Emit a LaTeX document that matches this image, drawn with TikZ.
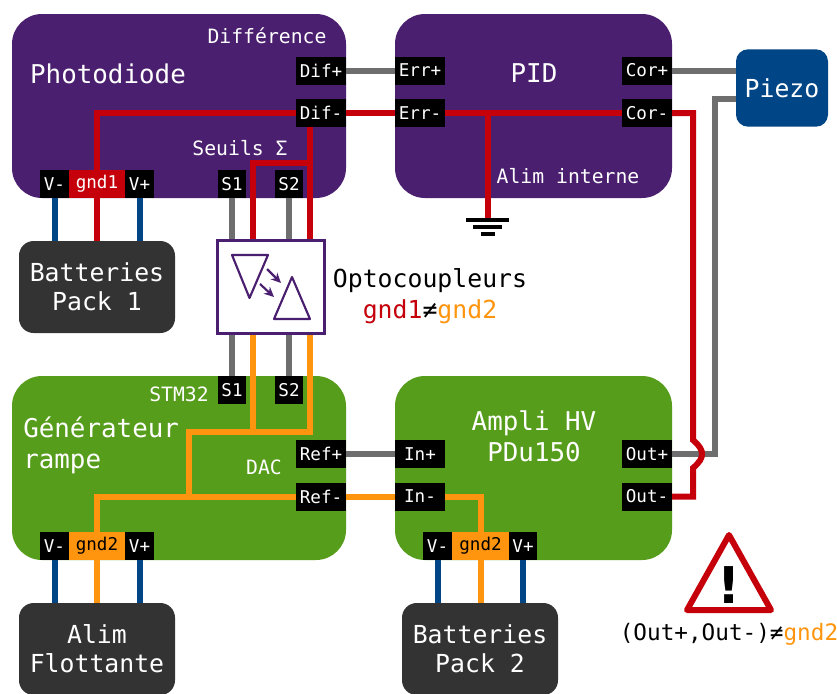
\documentclass[tikz,border=0pt]{standalone}
\usepackage{fontspec}
\setmainfont{DejaVu Sans Mono}
\newfontfamily\bangfont{DejaVu Sans}[BoldFont={DejaVu Sans Bold}]
\usetikzlibrary{arrows.meta}
\definecolor{cpurple}{HTML}{4B1F6F}
\definecolor{cgreen}{HTML}{579D1C}
\definecolor{cblue}{HTML}{004586}
\definecolor{cdark}{HTML}{333333}
\definecolor{cred}{HTML}{C5000B}
\definecolor{corange}{HTML}{FF950E}
\definecolor{cgray}{HTML}{6E6E6E}
\newcommand{\fnt}[2]{\fontsize{#1pt}{#2pt}\selectfont}
\pgfdeclarelayer{boxes}
\pgfdeclarelayer{wires}
\pgfsetlayers{boxes,wires,main}
\tikzset{
  bigbox/.style={rectangle,rounded corners=22.5pt,inner sep=0,outer sep=0,minimum width=250.5pt,minimum height=138pt},
  pidbox/.style={bigbox,minimum width=207.75pt},
  darkbox/.style={rectangle,rounded corners=11pt,inner sep=0,outer sep=0,fill=cdark,text=white,minimum width=117pt,minimum height=69pt,align=center,font=\fnt{18.6}{21.8}},
  port/.style={rectangle,inner sep=0,outer sep=0,fill=black,text=white,minimum height=21pt,font=\fnt{13.2}{16}},
  wideport/.style={port,minimum width=37.5pt},
  narrowport/.style={port,minimum width=21.5pt},
  gndport/.style={port,minimum width=42.5pt},
  wirebase/.style={line width=4.5pt},
  graywire/.style={wirebase,draw=cgray},
  redwire/.style={wirebase,draw=cred},
  orangewire/.style={wirebase,draw=corange},
  bluewire/.style={wirebase,draw=cblue},
  big/.style={text=white,font=\fnt{19.4}{23.2},align=center,inner sep=0},
  mid/.style={text=white,font=\fnt{14.8}{18},inner sep=0},
  optosym/.style={draw=cpurple,line width=1.6pt,line join=round},
  optoarrow/.style={draw=cpurple,line width=1.6pt,-{Stealth[length=7.5pt,width=7pt]}},
  gndbar/.style={draw=black,line width=3pt}
}
\begin{document}
\begin{tikzpicture}[x=0.75pt,y=-0.75pt]
\useasboundingbox (0,0) rectangle (837,693);
\begin{pgfonlayer}{boxes}
\fill[white] (0,0) rectangle (837,693);
\node[bigbox,fill=cpurple] (photo) at (179,106) {};
\node[pidbox,fill=cpurple] (pid) at (533.5,106) {};
\node[bigbox,fill=cgreen] (gen) at (179,468) {};
\node[pidbox,fill=cgreen] (amp) at (533.5,468) {};
\node[rectangle,rounded corners=9pt,fill=cblue,inner sep=0,outer sep=0,minimum width=69pt,minimum height=58pt,text=white,font=\fnt{18.6}{22}] (piezo) at (782,88) {Piezo};
\node[darkbox] (bat1) at (97,287) {Batteries\\Pack 1};
\node[darkbox] (alim) at (97,649) {Alim\\Flottante};
\node[darkbox] (bat2) at (480,649) {Batteries\\Pack 2};
\end{pgfonlayer}

% ports
\node[wideport] (difp) at (321,70.5) {Dif+};
\node[wideport] (difm) at (321,113) {Dif-};
\node[wideport] (errp) at (420,70.5) {Err+};
\node[wideport] (errm) at (420,113) {Err-};
\node[wideport] (corp) at (647,70.5) {Cor+};
\node[wideport] (corm) at (647,113) {Cor-};
\node[narrowport] (vma) at (54.5,184) {V-};
\node[gndport,fill=cred] (gnda) at (97,184) {gnd1};
\node[narrowport] (vpa) at (139.5,184) {V+};
\node[narrowport] (sa) at (232,184) {S1};
\node[narrowport] (sb) at (289,184) {S2};
\node[narrowport] (sc) at (232,390) {S1};
\node[narrowport] (sd) at (289,390) {S2};
\node[wideport] (refp) at (321,454) {Ref+};
\node[wideport] (refm) at (321,496.5) {Ref-};
\node[wideport] (inp) at (420,454) {In+};
\node[wideport] (inm) at (420,496.5) {In-};
\node[wideport] (outp) at (647,454) {Out+};
\node[wideport] (outm) at (647,496.5) {Out-};
\node[narrowport] (vmb) at (54.5,546) {V-};
\node[gndport,fill=corange,text=black] (gndb) at (97,546) {gnd2};
\node[narrowport] (vpb) at (139.5,546) {V+};
\node[narrowport] (vmc) at (437.5,546) {V-};
\node[gndport,fill=corange,text=black] (gndc) at (480.5,546) {gnd2};
\node[narrowport] (vpc) at (523,546) {V+};

% optocoupler
\node[rectangle,draw=cpurple,fill=white,line width=2.4pt,inner sep=0,outer sep=0,minimum width=80.25pt,minimum height=69.75pt] (opto) at (271,287) {};
\draw[optosym] (232,255) -- (268,255) -- (249.5,298) -- cycle;
\draw[optosym] (292,277) -- (310,319) -- (274,319) -- cycle;
\draw[optoarrow] (267,269) -- (281,283);
\draw[optoarrow] (260,284) -- (274,297);

% junction coordinates
\coordinate (difmS) at (310,127);
\coordinate (topa) at (253,240.5);
\coordinate (topb) at (310,240.5);
\coordinate (bota) at (253,333.5);
\coordinate (botb) at (310,333.5);
\coordinate (toga) at (232,240.5);
\coordinate (togb) at (289,240.5);
\coordinate (boga) at (232,333.5);
\coordinate (bogb) at (289,333.5);
\coordinate (splitr) at (310,163);
\coordinate (splito) at (310,432);
\coordinate (splitp) at (253,432);
\coordinate (busa) at (189,432);
\coordinate (busb) at (189,496.5);
\coordinate (gndpt) at (487.5,218);
\coordinate (gndj) at (487.5,113);
\coordinate (piezoa) at (736,70.5);
\coordinate (piezob) at (736,98.5);
\coordinate (grayc) at (714.5,98.5);
\coordinate (grayd) at (714.5,454);
\coordinate (reda) at (693,113);
\coordinate (redb) at (693,440);
\coordinate (redc) at (693,468);
\coordinate (redd) at (693,496.5);
\coordinate (bat1a) at (54.5,241);
\coordinate (bat1b) at (97,241);
\coordinate (bat1c) at (139.5,241);
\coordinate (alima) at (54.5,603);
\coordinate (alimb) at (97,603);
\coordinate (alimc) at (139.5,603);
\coordinate (bat2a) at (437.5,603);
\coordinate (bat2b) at (480.5,603);
\coordinate (bat2c) at (523,603);

\begin{pgfonlayer}{wires}
\draw[graywire] (difp.east) -- (errp.west);
\draw[graywire] (corp.east) -- (piezoa);
\draw[graywire] (sa.south) -- (toga);
\draw[graywire] (sb.south) -- (togb);
\draw[graywire] (boga) -- (sc.north);
\draw[graywire] (bogb) -- (sd.north);
\draw[graywire] (refp.east) -- (inp.west);
\draw[graywire] (piezob) -- (grayc) -- (grayd) -- (outp.east);

\draw[redwire] (difm.west) -| (gnda.north);
\draw[redwire] (difm.east) -- (errm.west);
\draw[redwire] (difmS) -- (topb);
\draw[redwire] (splitr) -| (topa);
\draw[redwire] (errm.east) -- (corm.east);
\draw[redwire] (gndj) -- (gndpt);
\draw[redwire] (corm.east) -- (reda) -- (redb) .. controls (700,446) and (702,450) .. (702,454) .. controls (702,458) and (700,462) .. (redc) -- (redd) -- (outm.east);
\draw[redwire] (gnda.south) -- (bat1b);

\draw[orangewire] (bota) -- (splitp);
\draw[orangewire] (botb) -- (splito) -- (busa) -- (busb);
\draw[orangewire] (refm.west) -| (gndb.north);
\draw[orangewire] (refm.east) -- (inm.west);
\draw[orangewire] (inm.east) -| (gndc.north);
\draw[orangewire] (gndb.south) -- (alimb);
\draw[orangewire] (gndc.south) -- (bat2b);

\draw[bluewire] (vma.south) -- (bat1a);
\draw[bluewire] (vpa.south) -- (bat1c);
\draw[bluewire] (vmb.south) -- (alima);
\draw[bluewire] (vpb.south) -- (alimc);
\draw[bluewire] (vmc.south) -- (bat2a);
\draw[bluewire] (vpc.south) -- (bat2c);
\end{pgfonlayer}

% ground symbol
\draw[gndbar] (466,219.5) -- (509,219.5);
\draw[gndbar] (473,227) -- (502,227);
\draw[gndbar] (481,234) -- (495,234);

% labels
\node[big] (tphoto) at (108,74) {Photodiode};
\node[mid] (tdiff) at (267,36) {Différence};
\node[mid] (tseuils) at (240,148) {Seuils Σ};
\node[big] (tpid) at (534,73) {PID};
\node[mid] (talim) at (568,176) {Alim interne};
\node[mid] (tstm) at (179,394) {STM32};
\node[mid] (tdac) at (264,467) {DAC};
\node[big,align=left,anchor=west] (tgen) at (23,445.5) {Générateur\\rampe};
\node[big] (tamp) at (534,436.5) {Ampli HV\\PDu150};
\node[inner sep=0,font=\fnt{18.6}{22}] (topto) at (430,281) {Optocoupleurs};
\node[inner sep=0,font=\fnt{18.6}{22}] (tne) at (430,312) {\textcolor{cred}{gnd1}≠\textcolor{corange}{gnd2}};
\node[inner sep=0,font=\fnt{17}{21}] (tout) at (729,634) {(Out+,Out-)≠\textcolor{corange}{gnd2}};

% warning sign
\draw[draw=cred,line width=4.5pt,line join=round] (729,535) -- (771,610) -- (687,610) -- cycle;
\node[inner sep=0,text=black,font=\bangfont\bfseries\fnt{38}{44}] (bang) at (729,585) {!};
\end{tikzpicture}
\end{document}
